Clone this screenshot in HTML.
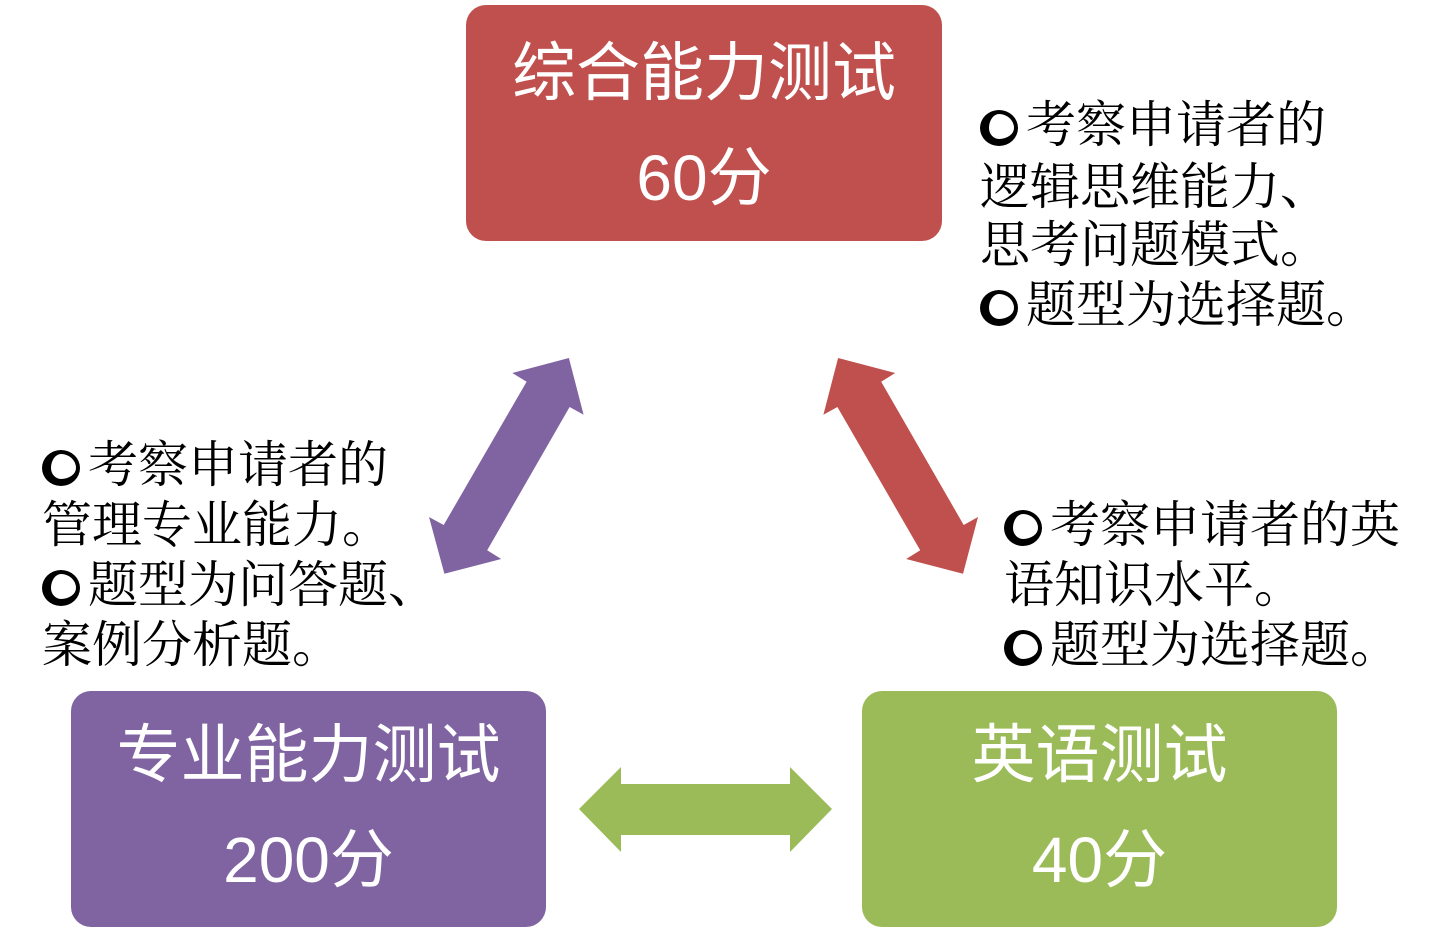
<!DOCTYPE html>
<html><head><meta charset="utf-8"><style>
body{margin:0;width:1432px;height:932px;background:#fff;position:relative;overflow:hidden;font-family:"Liberation Sans","Noto Sans CJK SC",sans-serif}
.box{position:absolute;border-radius:20px;color:#fff;text-align:center}
.t{position:absolute;left:0;right:0;font-size:64px;line-height:70px;white-space:nowrap}
.ln{position:absolute;font-family:"Liberation Serif","Noto Serif CJK SC",serif;font-size:50px;line-height:60px;white-space:nowrap;color:#000}
.b{display:inline-block;width:38px;height:36px;border:4px solid #000;border-left-width:9px;border-bottom-width:7px;border-radius:50%;margin-right:8px;vertical-align:-4px;box-sizing:border-box}
</style></head><body>
<div class="box" style="left:466px;top:5px;width:476px;height:236px;background:#C0504D">
<div class="t" style="top:33px">综合能力测试</div><div class="t" style="top:138px">60分</div></div>
<div class="box" style="left:71px;top:691px;width:475px;height:236px;background:#8064A2">
<div class="t" style="top:29px">专业能力测试</div><div class="t" style="top:134px">200分</div></div>
<div class="box" style="left:862px;top:691px;width:475px;height:236px;background:#9BBB59">
<div class="t" style="top:29px">英语测试</div><div class="t" style="top:134px">40分</div></div>
<svg width="1432" height="932" style="position:absolute;left:0;top:0">
<polygon fill="#8064A2" points="568.9,358 583.6,414.7 569.6,407 487.2,550.3 501.2,559 444.4,573.7 429,517 443.7,525 526.6,381.7 512.3,373"/>
<polygon fill="#C0504D" points="838.1,358 895.2,373 881.2,381.7 963.7,525 978,517 963,573.7 906.2,559 920.2,550.3 837.4,407 823.4,414.7"/>
<polygon fill="#9BBB59" points="579,809 621,767 621,784 790,784 790,767 832,809 790,852 790,835 621,835 621,852"/>
</svg>
<div class="ln" style="left:980px;top:95px"><span class="b"></span>考察申请者的</div>
<div class="ln" style="left:980px;top:157px">逻辑思维能力、</div>
<div class="ln" style="left:980px;top:215px">思考问题模式。</div>
<div class="ln" style="left:980px;top:275px"><span class="b"></span>题型为选择题。</div>
<div class="ln" style="left:42px;top:435px"><span class="b"></span>考察申请者的</div>
<div class="ln" style="left:42px;top:495px">管理专业能力。</div>
<div class="ln" style="left:42px;top:555px"><span class="b"></span>题型为问答题、</div>
<div class="ln" style="left:42px;top:615px">案例分析题。</div>
<div class="ln" style="left:1004px;top:495px"><span class="b"></span>考察申请者的英</div>
<div class="ln" style="left:1004px;top:555px">语知识水平。</div>
<div class="ln" style="left:1004px;top:615px"><span class="b"></span>题型为选择题。</div>
</body></html>
